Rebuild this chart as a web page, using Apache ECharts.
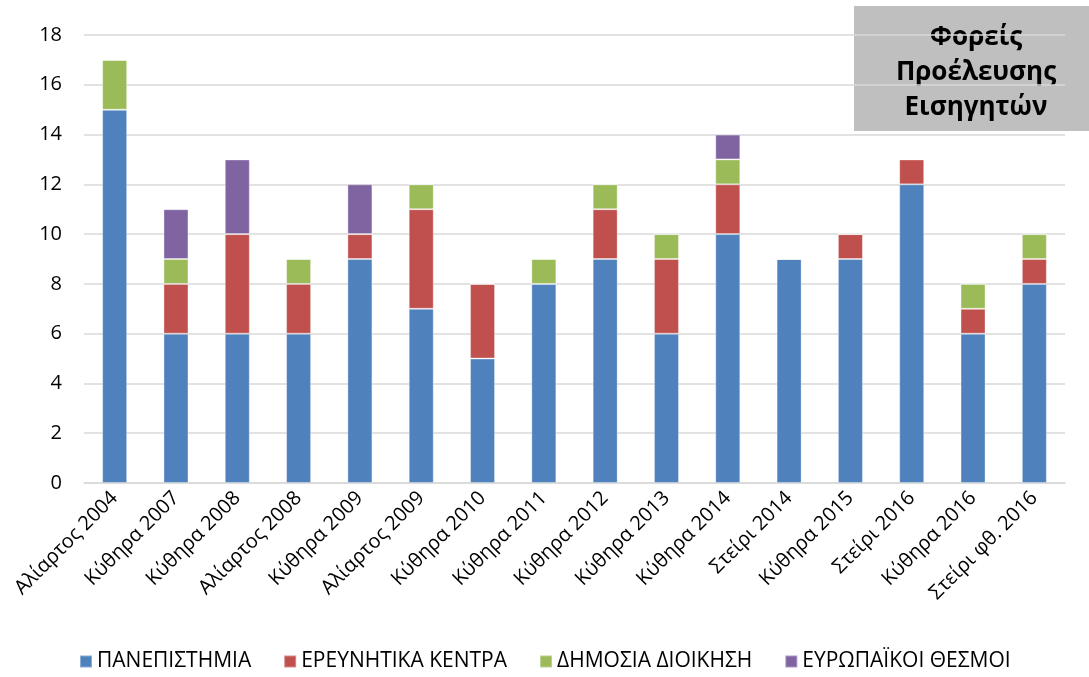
<!DOCTYPE html>
<html>
<head>
<meta charset="utf-8">
<script src="https://cdn.jsdelivr.net/npm/echarts@6/dist/echarts.min.js"></script>
<style>
  html, body { margin: 0; padding: 0; background: #fff; }
  #chart { width: 1089px; height: 677px; }
</style>
</head>
<body>
<div id="chart"></div>
<script>
var categories = ['Αλίαρτος 2004', 'Κύθηρα 2007', 'Κύθηρα 2008', 'Αλίαρτος 2008', 'Κύθηρα 2009', 'Αλίαρτος 2009',
  'Κύθηρα 2010', 'Κύθηρα 2011', 'Κύθηρα 2012', 'Κύθηρα 2013', 'Κύθηρα 2014', 'Στείρι 2014',
  'Κύθηρα 2015', 'Στείρι 2016', 'Κύθηρα 2016', 'Στείρι φθ. 2016'];
var seriesNames = ['ΠΑΝΕΠΙΣΤΗΜΙΑ', 'ΕΡΕΥΝΗΤΙΚΑ ΚΕΝΤΡΑ', 'ΔΗΜΟΣΙΑ ΔΙΟΙΚΗΣΗ', 'ΕΥΡΩΠΑΪΚΟΙ ΘΕΣΜΟΙ'];
var universities = [15, 6, 6, 6, 9, 7, 5, 8, 9, 6, 10, 9, 9, 12, 6, 8];
var research = [0, 2, 4, 2, 1, 4, 3, 0, 2, 3, 2, 0, 1, 1, 1, 1];
var publicAdmin = [2, 1, 0, 1, 0, 1, 0, 1, 1, 1, 1, 0, 0, 0, 1, 1];
var european = [0, 2, 3, 0, 2, 0, 0, 0, 0, 0, 1, 0, 0, 0, 0, 0];
var colors = ['#4f81bd', '#c0504d', '#9bbb59', '#8064a2'];

var chart = echarts.init(document.getElementById('chart'));
var font = 'Open Sans';

function bar(name, data, color) {
  return {
    name: name,
    type: 'bar',
    stack: 'total',
    barWidth: 25,
    data: data,
    itemStyle: {
      color: color,
      borderColor: 'rgba(255,255,255,0.35)',
      borderWidth: 1
    }
  };
}

chart.setOption({
  animation: false,
  color: colors,
  grid: {
    left: 84,
    right: 24,
    top: 35,
    bottom: 194
  },
  legend: {
    bottom: 0,
    left: 74,
    itemWidth: 12,
    itemHeight: 12,
    itemGap: 32,
    icon: 'rect',
    textStyle: { fontSize: 21, color: '#000', fontFamily: font },
    data: seriesNames
  },
  xAxis: {
    type: 'category',
    data: categories,
    axisTick: { show: false },
    axisLine: { lineStyle: { color: '#d9d9d9', width: 1.5 } },
    axisLabel: {
      rotate: 45,
      interval: 0,
      margin: 12,
      fontSize: 20,
      color: '#000',
      fontFamily: font
    }
  },
  yAxis: {
    type: 'value',
    min: 0,
    max: 18,
    interval: 2,
    axisLine: { show: false },
    axisTick: { show: false },
    splitLine: { lineStyle: { color: '#d9d9d9', width: 1.5 } },
    axisLabel: {
      margin: 22,
      fontSize: 20,
      color: '#000',
      fontFamily: font
    }
  },
  graphic: [
    {
      type: 'rect',
      left: 854,
      top: 6,
      shape: { width: 240, height: 125 },
      style: { fill: '#bfbfbf' }
    },
    {
      type: 'text',
      x: 976,
      y: 73,
      style: {
        text: 'Φορείς\nΠροέλευσης\nΕισηγητών',
        fill: '#000',
        fontFamily: font,
        fontWeight: 'bold',
        fontSize: 26,
        lineHeight: 35,
        align: 'center',
        verticalAlign: 'middle'
      }
    }
  ],
  series: [
    bar(seriesNames[0], universities, colors[0]),
    bar(seriesNames[1], research, colors[1]),
    bar(seriesNames[2], publicAdmin, colors[2]),
    bar(seriesNames[3], european, colors[3])
  ]
});
</script>
</body>
</html>
